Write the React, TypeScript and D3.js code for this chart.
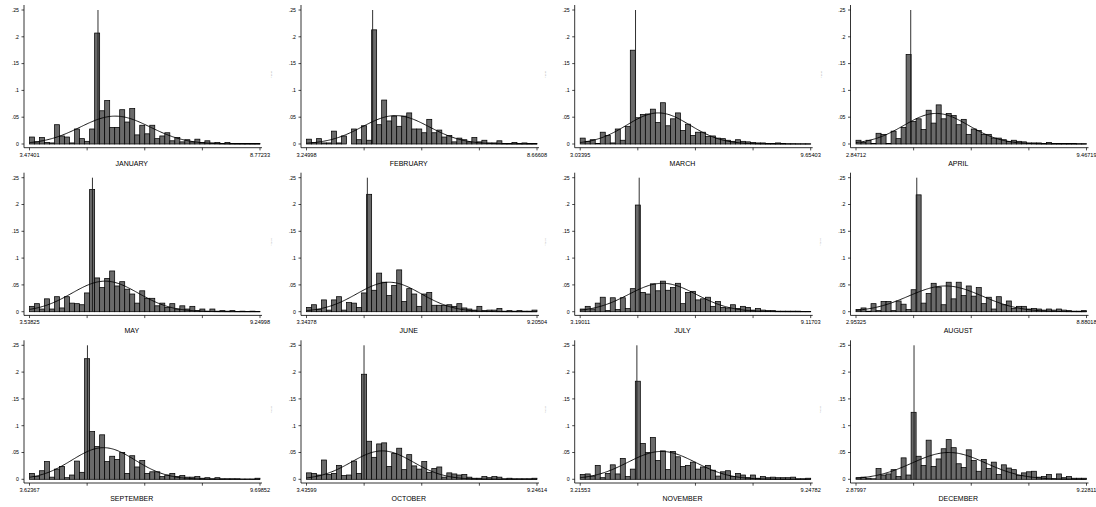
import * as d3 from 'd3';

// Monthly histograms of log wages with a fitted normal curve and a reference line

const months = ['JANUARY', 'FEBRUARY', 'MARCH', 'APRIL', 'MAY', 'JUNE', 'JULY', 'AUGUST', 'SEPTEMBER', 'OCTOBER', 'NOVEMBER', 'DECEMBER'];

const axisMin = [3.47401, 3.24998, 3.03395, 2.84712, 3.53825, 3.34378, 3.19011, 2.95325, 3.62367, 3.43599, 3.21553, 2.87997];
const axisMax = [8.77233, 8.66608, 9.65403, 9.46719, 9.24998, 9.20504, 9.11703, 8.88018, 9.69852, 9.24614, 9.24782, 9.22811];
const minLabels = ['3.47401', '3.24998', '3.03395', '2.84712', '3.53825', '3.34378', '3.19011', '2.95325', '3.62367', '3.43599', '3.21553', '2.87997'];
const maxLabels = ['8.77233', '8.66608', '9.65403', '9.46719', '9.24998', '9.20504', '9.11703', '8.88018', '9.69852', '9.24614', '9.24782', '9.22811'];

// fraction per bin, 46 bins each
const janBins = [0.013, 0.004, 0.012, 0.003, 0.002, 0.036, 0.015, 0.013, 0.002, 0.028, 0.010, 0.005, 0.028, 0.207, 0.062, 0.081, 0.031, 0.031, 0.064, 0.041, 0.066, 0.017, 0.035, 0.019, 0.035, 0.010, 0.015, 0.021, 0.006, 0.012, 0.004, 0.008, 0.004, 0.009, 0.003, 0.006, 0.002, 0.003, 0.001, 0.003, 0.001, 0.001, 0.001, 0.001, 0.001, 0.001];
const febBins = [0.009, 0.003, 0.010, 0.002, 0.002, 0.024, 0.002, 0.015, 0, 0.028, 0.008, 0.034, 0.007, 0.213, 0.036, 0.082, 0.043, 0.052, 0.033, 0.052, 0.058, 0.028, 0.028, 0.021, 0.046, 0.021, 0.026, 0.013, 0.016, 0.004, 0.011, 0.008, 0.004, 0.012, 0.004, 0.007, 0.002, 0.002, 0.006, 0.001, 0.001, 0.003, 0.001, 0.002, 0.001, 0.001];
const marBins = [0.011, 0.005, 0.008, 0.001, 0.022, 0.016, 0.002, 0.028, 0.007, 0.033, 0.175, 0.049, 0.055, 0.056, 0.065, 0.040, 0.077, 0.034, 0.047, 0.058, 0.025, 0.037, 0.016, 0.022, 0.022, 0.014, 0.015, 0.011, 0.010, 0.007, 0.005, 0.008, 0.005, 0.004, 0.003, 0.002, 0.002, 0.001, 0.001, 0.002, 0.001, 0.0005, 0.0005, 0.0003, 0.0003, 0.0003];
const aprBins = [0.007, 0.003, 0.007, 0.001, 0.020, 0.018, 0.001, 0.024, 0.010, 0.031, 0.167, 0.042, 0.047, 0.027, 0.063, 0.039, 0.073, 0.047, 0.057, 0.053, 0.036, 0.046, 0.018, 0.028, 0.025, 0.018, 0.018, 0.011, 0.011, 0.008, 0.005, 0.007, 0.005, 0.004, 0.002, 0.002, 0.002, 0.001, 0.003, 0.001, 0.001, 0.001, 0.001, 0.001, 0.0005, 0.0005];
const mayBins = [0.010, 0.015, 0.005, 0.024, 0.005, 0.028, 0.007, 0.028, 0.016, 0.015, 0.013, 0.035, 0.228, 0.063, 0.045, 0.062, 0.076, 0.048, 0.056, 0.042, 0.033, 0.016, 0.039, 0.025, 0.025, 0.011, 0.016, 0.008, 0.015, 0.005, 0.011, 0.005, 0.010, 0.002, 0.005, 0.001, 0.005, 0.001, 0.002, 0.001, 0.002, 0.0005, 0.001, 0.0005, 0.001, 0.0005];
const junBins = [0.008, 0.013, 0.004, 0.022, 0.003, 0.022, 0.028, 0.003, 0.017, 0.016, 0.008, 0.035, 0.219, 0.040, 0.072, 0.055, 0.030, 0.049, 0.078, 0.019, 0.043, 0.033, 0.010, 0.033, 0.036, 0.012, 0.012, 0.012, 0.013, 0.010, 0.015, 0.007, 0.005, 0.003, 0.010, 0.002, 0.003, 0.003, 0.006, 0.001, 0.002, 0.001, 0.002, 0.001, 0.001, 0.003];
const julBins = [0.005, 0.010, 0.005, 0.016, 0.027, 0.002, 0.026, 0.004, 0.026, 0.006, 0.043, 0.199, 0.036, 0.033, 0.052, 0.039, 0.057, 0.040, 0.045, 0.053, 0.015, 0.036, 0.038, 0.022, 0.024, 0.027, 0.010, 0.019, 0.008, 0.007, 0.013, 0.006, 0.010, 0.008, 0.003, 0.006, 0.003, 0.002, 0.002, 0.001, 0.001, 0.001, 0.001, 0.001, 0.0003, 0.0003];
const augBins = [0.004, 0.007, 0.001, 0.015, 0.002, 0.019, 0.019, 0.002, 0.020, 0.014, 0.004, 0.041, 0.218, 0.016, 0.034, 0.053, 0.046, 0.013, 0.055, 0.024, 0.055, 0.030, 0.048, 0.029, 0.045, 0.015, 0.027, 0.005, 0.028, 0.013, 0.020, 0.006, 0.010, 0.010, 0.005, 0.006, 0.005, 0.003, 0.005, 0.003, 0.005, 0.003, 0.002, 0.001, 0.001, 0.002];
const sepBins = [0.011, 0.005, 0.016, 0.033, 0.004, 0.019, 0.024, 0.003, 0.008, 0.034, 0.013, 0.225, 0.089, 0.061, 0.083, 0.033, 0.043, 0.037, 0.050, 0.011, 0.044, 0.023, 0.035, 0.011, 0.014, 0.014, 0.005, 0.008, 0.011, 0.005, 0.007, 0.004, 0.004, 0.005, 0.002, 0.003, 0.001, 0.003, 0.001, 0.001, 0.001, 0.001, 0.0005, 0.0005, 0.0005, 0.002];
const octBins = [0.012, 0.011, 0.008, 0.036, 0.009, 0.011, 0.026, 0.007, 0.008, 0.034, 0.011, 0.196, 0.071, 0.041, 0.066, 0.068, 0.024, 0.048, 0.058, 0.018, 0.046, 0.025, 0.019, 0.033, 0.013, 0.020, 0.023, 0.004, 0.012, 0.010, 0.008, 0.009, 0.004, 0.002, 0.002, 0.005, 0.003, 0.005, 0.004, 0.001, 0.002, 0.001, 0.001, 0.001, 0.001, 0.002];
const novBins = [0.009, 0.010, 0.006, 0.026, 0.003, 0.011, 0.027, 0.010, 0.039, 0.005, 0.019, 0.183, 0.067, 0.050, 0.078, 0.035, 0.053, 0.018, 0.052, 0.042, 0.024, 0.026, 0.032, 0.019, 0.023, 0.026, 0.017, 0.006, 0.014, 0.016, 0.005, 0.011, 0.008, 0.003, 0.008, 0.002, 0.005, 0.003, 0.004, 0.003, 0.003, 0.003, 0.004, 0.001, 0.001, 0.002];
const decBins = [0.003, 0.004, 0.002, 0.001, 0.020, 0.008, 0.010, 0.018, 0.005, 0.040, 0.008, 0.125, 0.043, 0.026, 0.073, 0.024, 0.038, 0.057, 0.074, 0.059, 0.029, 0.022, 0.055, 0.035, 0.015, 0.037, 0.020, 0.032, 0.009, 0.027, 0.021, 0.018, 0.007, 0.012, 0.014, 0.015, 0.004, 0.005, 0.009, 0.001, 0.010, 0.003, 0.005, 0.002, 0.002, 0.002];
const monthBins = [janBins, febBins, marBins, aprBins, mayBins, junBins, julBins, augBins, sepBins, octBins, novBins, decBins];

// normal overlay: mean, sd (log units) and peak fraction
const curveMean = [5.445, 5.346, 5.278, 5.151, 5.412, 5.442, 5.306, 5.253, 5.574, 5.347, 5.345, 5.438];
const curveSd = [0.805, 0.785, 0.91, 0.934, 0.823, 0.82, 0.873, 0.948, 0.834, 0.78, 0.889, 1.015];
const curvePeak = [0.052, 0.053, 0.058, 0.057, 0.057, 0.055, 0.053, 0.048, 0.059, 0.053, 0.052, 0.05];

// vertical reference line (log value)
const refLine = [5.048, 4.804, 4.623, 4.419, 5.098, 4.891, 4.707, 4.516, 5.151, 4.886, 4.699, 4.478];

const yTicks = [0, 0.05, 0.1, 0.15, 0.2, 0.25];
const yTickLabels = ['0', '.05', '.1', '.15', '.2', '.25'];

const colAxisX = [24, 301, 574.7, 850.5];
const rowZeroY = [144, 311.7, 479.3];
const FONT = '"Liberation Sans", Arial, sans-serif';

function Panel({ idx }: { idx: number }) {
  const col = idx % 4;
  const row = Math.floor(idx / 4);
  const ax = colAxisX[col];
  const y0 = rowZeroY[row];
  const lo = axisMin[idx];
  const hi = axisMax[idx];
  const bins = monthBins[idx];

  const x = d3.scaleLinear().domain([lo, hi]).range([ax + 5.5, ax + 236]);
  const y = d3.scaleLinear().domain([0, 0.25]).range([y0, y0 - 134]);
  const bw = (hi - lo) / bins.length;
  const axisY = y0 + 3.7;

  const xs = d3.range(0, 201).map(i => lo + (i / 200) * (hi - lo));
  const line = d3.line<number>()
    .x(v => x(v))
    .y(v => y(curvePeak[idx] * Math.exp(-((v - curveMean[idx]) ** 2) / (2 * curveSd[idx] ** 2))));

  const xTicks = d3.range(0, 5).map(i => lo + (i / 4) * (hi - lo));

  return (
    <g>
      {bins.map((h, i) => (
        <rect
          key={i}
          x={x(lo + i * bw)}
          y={y(h)}
          width={x(lo + (i + 1) * bw) - x(lo + i * bw)}
          height={y(0) - y(h)}
          fill="#6a6a6a"
          stroke="#000"
          strokeWidth={0.75}
        />
      ))}
      <line x1={x(refLine[idx])} x2={x(refLine[idx])} y1={y(0)} y2={y(0.25)} stroke="#1a1a1a" strokeWidth={0.9} />
      <path d={line(xs) ?? ''} fill="none" stroke="#000" strokeWidth={0.9} />

      {/* y axis */}
      <line x1={ax} x2={ax} y1={y0 - 139} y2={axisY} stroke="#000" strokeWidth={0.8} />
      {yTicks.map((t, i) => (
        <g key={t}>
          <line x1={ax - 2.5} x2={ax} y1={y(t)} y2={y(t)} stroke="#000" strokeWidth={0.7} />
          <text x={ax - 5} y={y(t) + 1.8} textAnchor="end" fontSize={5.2} fontFamily={FONT}>{yTickLabels[i]}</text>
        </g>
      ))}
      {col > 0 && (
        <text x={ax - 29} y={y0 - 66} fontSize={2} fill="#999" fontFamily={FONT} transform={`rotate(-90 ${ax - 29} ${y0 - 66})`}>Fraction</text>
      )}

      {/* x axis */}
      <line x1={ax} x2={ax + 238} y1={axisY} y2={axisY} stroke="#000" strokeWidth={0.8} />
      {xTicks.map((t, i) => (
        <line key={i} x1={x(t)} x2={x(t)} y1={axisY} y2={axisY + 2.7} stroke="#000" strokeWidth={0.7} />
      ))}
      <text x={x(lo)} y={axisY + 9} textAnchor="middle" fontSize={5.6} fontFamily={FONT}>{minLabels[idx]}</text>
      <text x={x(hi)} y={axisY + 9} textAnchor="middle" fontSize={5.6} fontFamily={FONT}>{maxLabels[idx]}</text>
      <text x={(x(lo) + x(hi)) / 2 - 13} y={axisY + 17.8} textAnchor="middle" fontSize={7} fontFamily={FONT}>{months[idx]}</text>
    </g>
  );
}

export default function App() {
  return (
    <div style={{ position: 'fixed', left: 0, top: 0, width: 1096, height: 507, background: '#fff' }}>
      <svg width={1096} height={507} viewBox="0 0 1096 507">
        <rect width={1096} height={507} fill="#fff" />
        {months.map((_, i) => <Panel key={i} idx={i} />)}
      </svg>
    </div>
  );
}
